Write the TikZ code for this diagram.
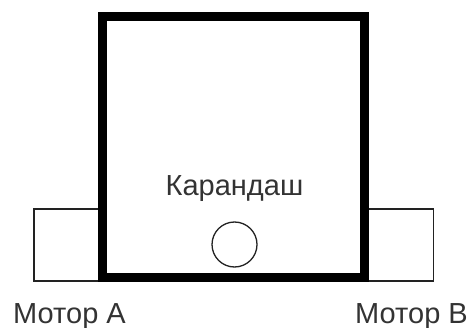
\documentclass[tikz,border=0pt]{standalone}
\usepackage{fontspec}
\setmainfont{Liberation Sans}
\definecolor{txt}{HTML}{333333}
\definecolor{thin}{HTML}{222222}
\begin{document}
\begin{tikzpicture}[x=1pt,y=-1pt,
  lbl/.style={inner sep=0pt,text=txt,font=\fontsize{29}{34}\selectfont},
  motorbox/.style={draw=thin,line width=1.3pt},
  frame/.style={draw=black,line width=8.5pt,line join=miter}]
\useasboundingbox (0,0) rectangle (470,328);
% motor boxes
\draw[motorbox] (34,209) rectangle (102,281);
\draw[motorbox] (364,209) rectangle (433.3,281);
% main frame
\draw[frame] (102.7,16.3) rectangle (364.7,277.5);
% pencil
\node[draw=thin,line width=1.3pt,circle,minimum size=45pt,inner sep=0pt] (pen) at (234.5,244.5) {};
\node[lbl,anchor=base] (penlbl) at (234.5,196) {Карандаш};
\node[lbl,anchor=base west] (ma) at (13,323) {Мотор A};
\node[lbl,anchor=base west] (mb) at (355,323) {Мотор B};
\end{tikzpicture}
\end{document}
